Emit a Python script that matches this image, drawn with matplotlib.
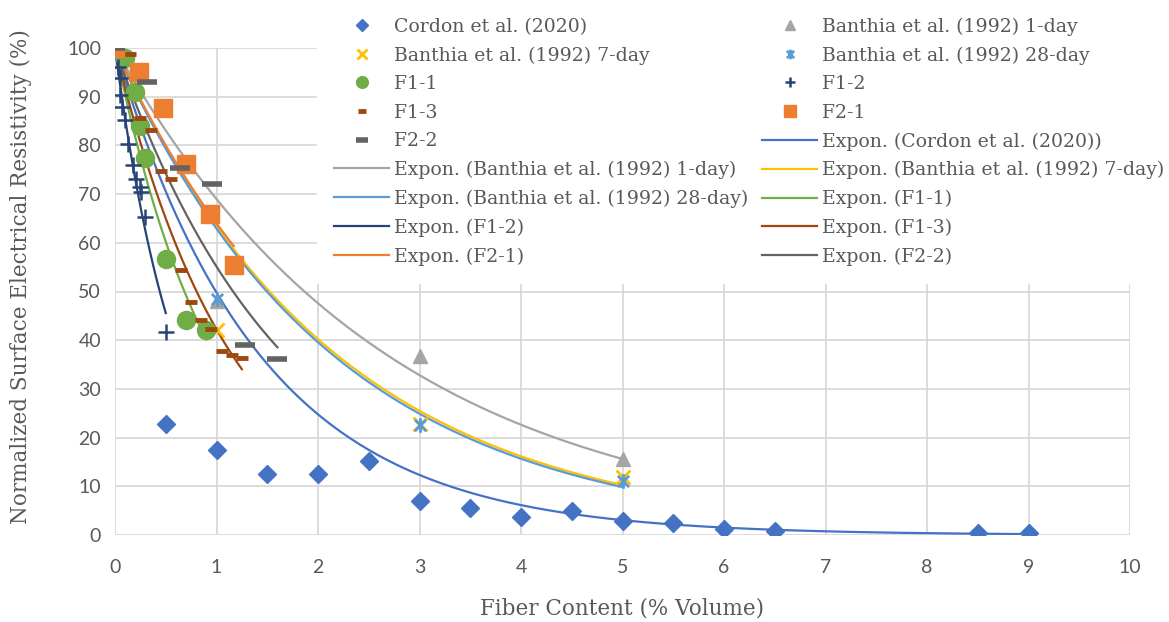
import numpy as np
import matplotlib
matplotlib.use("Agg")
import matplotlib.pyplot as plt
from matplotlib.path import Path

# data (fiber content % vol, normalized resistivity %)
cordon_x = [0, 0.5, 1, 1.5, 2, 2.5, 3, 3.5, 4, 4.5, 5, 5.5, 6, 6.5, 8.5, 9]
cordon_y = [100, 22.7, 17.5, 12.6, 12.6, 15.1, 7.0, 5.6, 3.6, 4.9, 2.9, 2.4, 1.3, 0.8, 0.5, 0.4]

banthia_x = [0, 1, 3, 5]
banthia_1d = [100, 48.0, 36.7, 15.7]
banthia_7d = [100, 42.0, 22.8, 11.9]
banthia_28d = [100, 48.4, 22.6, 11.0]

f11_x = [0, 0.1, 0.2, 0.25, 0.3, 0.5, 0.7, 0.9]
f11_y = [100, 98, 91, 84, 77.5, 56.6, 44.1, 42.1]
f12_x = [0, 0.03, 0.05, 0.05, 0.07, 0.1, 0.13, 0.18, 0.21, 0.25, 0.26, 0.3, 0.5]
f12_y = [100, 96.2, 93.8, 90.3, 87.9, 85.2, 80.3, 76.0, 73.2, 71.5, 70.5, 65.2, 41.7]
f13_x = [0, 0.15, 0.25, 0.35, 0.45, 0.55, 0.65, 0.75, 0.85, 0.95, 1.05, 1.15, 1.25]
f13_y = [100, 98.7, 85.7, 83.2, 74.8, 73.0, 54.4, 47.8, 44.1, 42.2, 37.8, 37.0, 36.4]
f21_x = [0, 0.234, 0.468, 0.702, 0.936, 1.17]
f21_y = [100, 95.0, 87.7, 76.2, 66.0, 55.4]
f22_x = [0, 0.32, 0.64, 0.96, 1.28, 1.6]
f22_y = [100, 93.0, 75.3, 72.0, 39.0, 36.1]

labels = ["Cordon et al. (2020)", "Banthia et al. (1992) 1-day",
          "Banthia et al. (1992) 7-day", "Banthia et al. (1992) 28-day",
          "F1-1", "F1-2", "F1-3", "F2-1", "F2-2"]
colors = ["#4472C4", "#A5A5A5", "#FFC000", "#5B9BD5", "#70AD47",
          "#264478", "#9E480E", "#ED7D31", "#636363"]

asterisk = Path([(-1, -1), (1, 1), (-1, 1), (1, -1), (0, -1.3), (0, 1.3)],
                [Path.MOVETO, Path.LINETO, Path.MOVETO, Path.LINETO, Path.MOVETO, Path.LINETO])

styles = [
    dict(marker="D", ms=9.5),
    dict(marker="^", ms=10),
    dict(marker="x", ms=10.5, mew=2),
    dict(marker=asterisk, ms=10.5, mew=2),
    dict(marker="o", ms=13),
    dict(marker="+", ms=12, mew=1.8),
    dict(marker="_", ms=8, mew=3.5),
    dict(marker="s", ms=13),
    dict(marker="_", ms=14, mew=4),
]

series = [(cordon_x, cordon_y), (banthia_x, banthia_1d), (banthia_x, banthia_7d),
          (banthia_x, banthia_28d), (f11_x, f11_y), (f12_x, f12_y),
          (f13_x, f13_y), (f21_x, f21_y), (f22_x, f22_y)]


def expon_trend(x, y):
    # exponential trendline with intercept fixed at 100
    x = np.asarray(x, float)
    y = np.asarray(y, float)
    b = np.sum(x * np.log(y / 100.0)) / np.sum(x ** 2)
    xs = np.linspace(x.min(), x.max(), 300)
    return xs, 100.0 * np.exp(b * xs)


fig = plt.figure(figsize=(11.69, 6.22), dpi=100)
ax = fig.add_axes([115 / 1169, 1 - 535 / 622, 1015 / 1169, 487 / 622])

marker_handles = []
trend_handles = []
for (x, y), lab, col, st in zip(series, labels, colors, styles):
    h, = ax.plot(x, y, linestyle="none", color=col, markeredgecolor=col,
                 label=lab, zorder=3, **st)
    marker_handles.append(h)
for (x, y), lab, col in zip(series, labels, colors):
    xs, ys = expon_trend(x, y)
    h, = ax.plot(xs, ys, color=col, lw=1.6, zorder=2, label="Expon. (" + lab + ")")
    trend_handles.append(h)

ax.set_xlim(0, 10)
ax.set_ylim(0, 100)
ax.set_xticks(range(0, 11))
ax.set_yticks(range(0, 101, 10))
ax.grid(True, color="#D9D9D9", lw=1.3)
ax.set_axisbelow(True)
for s in ax.spines.values():
    s.set_visible(False)
ax.tick_params(length=0, labelsize=14, labelcolor="#595959")
ax.tick_params(axis="x", pad=17)
ax.tick_params(axis="y", pad=10)
for t in ax.get_xticklabels() + ax.get_yticklabels():
    t.set_family("Lato")

ax.set_xlabel("Fiber Content (% Volume)", family="DejaVu Serif", fontsize=15.5,
              color="#595959", labelpad=16)
ax.set_ylabel("Normalized Surface Electrical Resistivity (%)", family="DejaVu Serif",
              fontsize=15.5, color="#595959")
ax.yaxis.set_label_coords(-0.082, 0.53)

# legend: two columns filled row by row like the original
all_handles = marker_handles + trend_handles
left = all_handles[0::2]
right = all_handles[1::2]
ordered = left + right
leg = fig.legend(handles=ordered, labels=[h.get_label() for h in ordered], ncol=2,
                 loc="upper left", bbox_to_anchor=(308 / 1169, 1.0 + 9 / 622),
                 prop=dict(family="DejaVu Serif", size=13.6), labelcolor="#595959",
                 frameon=True, framealpha=1, edgecolor="white", fancybox=False,
                 handlelength=2.9, handletextpad=0.25, columnspacing=0.75,
                 labelspacing=0.56, borderpad=0.9, markerscale=0.65)
leg.set_zorder(5)

fig.savefig("out.png", dpi=100)
